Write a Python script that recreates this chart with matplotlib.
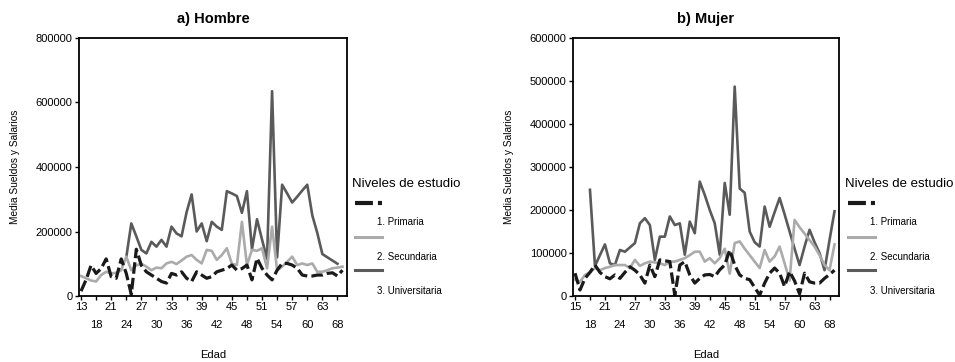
import numpy as np
import matplotlib.pyplot as plt
from matplotlib.lines import Line2D

plt.rcParams['font.family'] = ['Liberation Sans', 'DejaVu Sans']

nan = np.nan

# categorias de edad (eje x categorico)
edad_h = [13, 15, 16] + list(range(18, 64)) + [65, 66, 68, 69]
edad_m = list(range(15, 64)) + [65, 66, 68, 70]

# a) Hombre - media sueldos y salarios (miles)
primaria_h = [15, 50, 95, 70, 85, 115, 60, 55, 115, 70,
              5, 145, 95, 75, 65, 55, 45, 40, 70, 65,
              75, 55, 45, 75, 65, 55, 60, 75, 80, 85,
              96, 80, 85, 96, 50, 117, 86, 65, 50, 80,
              101, 101, 96, 86, 65, 62, 62, 65, 65, 70,
              72, 62, 80]
secundaria_h = [62, 55, 48, 45, 65, 75, 70, 72, 80, 122,
                80, 95, 100, 91, 80, 88, 86, 101, 106, 99,
                110, 122, 127, 112, 101, 143, 140, 112, 127, 148,
                100, 96, 230, 96, 143, 140, 148, 86, 215, 80,
                91, 106, 122, 96, 101, 96, 101, 75, 75, 80,
                86, 88, 91]
universitaria_h = [nan] * 9 + [120, 225, 185, 143, 132, 168, 153, 174, 153, 215,
                               194, 185, 260, 315, 200, 225, 170, 230, 215, 205,
                               325, 318, 310, 258, 325, 145, 238, 175, 115, 635,
                               120, 345, 318, 290, 308, 327, 345, 250, 195, 130,
                               120, 110, 100] + [nan]

# b) Mujer - media sueldos y salarios (miles)
primaria_m = [53, 14, 41, 55, 72, 55, 45, 40, 49, 41,
              55, 68, 60, 49, 30, 72, 45, 84, 82, 80,
              2, 72, 80, 49, 30, 41, 49, 50, 45, 61,
              72, 107, 72, 49, 41, 38, 20, 2, 30, 53,
              65, 53, 22, 57, 35, 5, 53, 33, 30, 30,
              41, 50, 60]
secundaria_m = [38, 33, 49, 55, 65, 60, 65, 68, 72, 72,
                72, 65, 84, 70, 76, 80, 78, 76, 72, 80,
                80, 84, 88, 95, 103, 103, 80, 88, 76, 88,
                110, 52, 123, 127, 110, 95, 80, 65, 107, 80,
                92, 115, 76, 36, 177, 160, 145, 130, 115, 95,
                72, 60, 120]
universitaria_m = [nan] * 3 + [247, 70, 95, 120, 76, 72, 107, 103, 113, 123,
                               169, 181, 165, 84, 138, 138, 185, 165, 169, 96,
                               173, 146, 266, 235, 200, 169, 96, 263, 189, 487,
                               250, 240, 150, 125, 115, 208, 161, 195, 228, 190,
                               150, 110, 72, 115, 154, 125, 100, 60, 130, 197]

niveles = ['1. Primaria', '2. Secundaria', '3. Universitaria']
c_prim = '#1a1a1a'
c_sec = '#ababab'
c_univ = '#5a5a5a'

W, H = 955, 362
fig = plt.figure(figsize=(W / 100, H / 100), dpi=100)


def px(x, y):
    return x / W, 1 - y / H


def panel(rect, edades, prim, sec, univ, titulo, ymax, ystep):
    ax = fig.add_axes(rect)
    x = np.arange(len(edades))
    ax.plot(x, np.array(univ, dtype=float) * 1000, color=c_univ, lw=1.9)
    ax.plot(x, np.array(sec, dtype=float) * 1000, color=c_sec, lw=1.9)
    ax.plot(x, np.array(prim, dtype=float) * 1000, color=c_prim, lw=2.3,
            dashes=(3.6, 1.3))
    ax.set_xlim(-0.4, 52.9)
    ax.set_ylim(0, ymax)
    ax.set_yticks(np.arange(0, ymax + 1, ystep))
    ax.set_yticklabels([str(int(v)) for v in np.arange(0, ymax + 1, ystep)])
    ax.set_xticks(x[::6])
    ax.set_xticklabels([str(e) for e in edades[::6]])
    ax.set_xticks(x[3::6], minor=True)
    ax.set_xticklabels([str(e) for e in edades[3::6]], minor=True)
    ax.tick_params(which='both', direction='out', length=3, width=1,
                   labelsize=8, pad=1.5)
    ax.tick_params(axis='x', which='minor', pad=14.5)
    for s in ax.spines.values():
        s.set_linewidth(1.3)
    ax.set_title(titulo, fontsize=10.5, fontweight='bold', pad=11)
    ax.set_xlabel('Edad', fontsize=8)
    ax.xaxis.set_label_coords(0.5, -0.21)
    ax.set_ylabel('Media Sueldos y Salarios', fontsize=7.3)
    ax.yaxis.set_label_coords(-0.22, 0.5)
    return ax


def leyenda(xt, xs0, xs1, xl):
    fig.text(*px(xt, 184), 'Niveles de estudio', fontsize=9.5,
             ha='left', va='center')
    estilos = [(c_prim, 3, (4.3, 1.2)), (c_sec, 2.2, None), (c_univ, 2.2, None)]
    for k, (col, lw, dash) in enumerate(estilos):
        yl = 203 + 33.5 * k
        x0, y0 = px(xs0, yl)
        x1, _ = px(xs1, yl)
        ln = Line2D([x0, x1], [y0, y0], color=col, lw=lw,
                    transform=fig.transFigure)
        if dash:
            ln.set_dashes(dash)
        fig.add_artist(ln)
        fig.text(*px(xl, 222 + 34.5 * k), niveles[k], fontsize=7,
                 ha='left', va='center')


panel([79 / W, 1 - 296 / H, 268 / W, 258 / H], edad_h, primaria_h,
      secundaria_h, universitaria_h, 'a) Hombre', 800000, 200000)
panel([573 / W, 1 - 296 / H, 266 / W, 258 / H], edad_m, primaria_m,
      secundaria_m, universitaria_m, 'b) Mujer', 600000, 100000)

leyenda(352, 355, 382, 377)
leyenda(845, 848, 875, 870)

fig.savefig('out.png', dpi=100)
